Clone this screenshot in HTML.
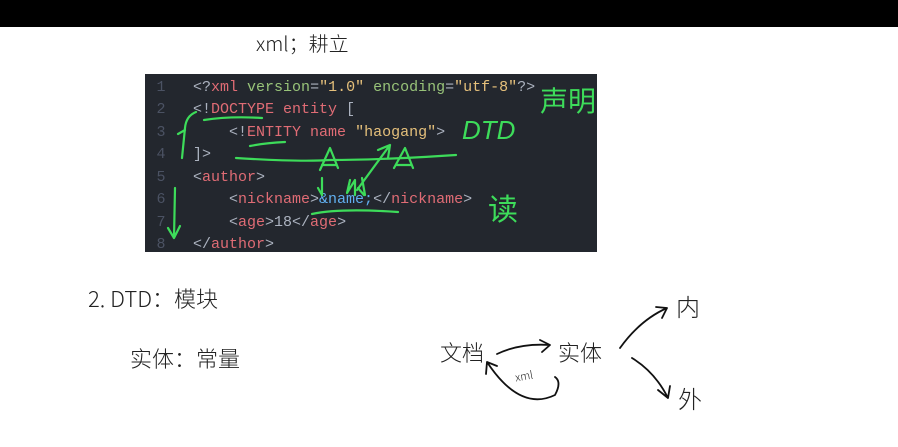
<!DOCTYPE html>
<html><head><meta charset="utf-8"><style>
body{margin:0;width:898px;height:447px;background:#fff;position:relative;overflow:hidden;font-family:"Liberation Sans","Noto Sans CJK SC",sans-serif}
.bar{position:absolute;left:0;top:0;width:898px;height:27px;background:#000}
.code{position:absolute;left:145px;top:74px;width:452px;height:178px;background:#23272e;overflow:hidden;font-family:"Liberation Mono",monospace;font-size:15px;color:#abb2bf}
.ln{position:absolute;left:8px;width:16px;text-align:center;color:#4b5263}
.l{position:absolute;white-space:pre}
.t{color:#e06c75}.s{color:#e5c07b}.a{color:#98c379}.e{color:#61afef}
.hw{position:absolute;font-family:"Noto Sans CJK SC",sans-serif;font-weight:300;color:#222;white-space:nowrap}
.g{position:absolute;color:#3ddc5a;font-family:"Noto Sans CJK SC",sans-serif;white-space:nowrap}
</style></head><body>
<div class="bar"></div>
<div class="hw" style="left:256px;top:28px;font-size:20px">xml；耕立</div>
<div class="code">
<div class="ln" style="top:5px">1</div><div class="ln" style="top:27px">2</div><div class="ln" style="top:50px">3</div><div class="ln" style="top:72px">4</div><div class="ln" style="top:95px">5</div><div class="ln" style="top:117px">6</div><div class="ln" style="top:140px">7</div><div class="ln" style="top:162px">8</div>
<div class="l" style="left:48px;top:5px">&lt;?<span class="t">xml</span> <span class="a">version</span>=<span class="s">"1.0"</span> <span class="a">encoding</span>=<span class="s">"utf-8"</span>?&gt;</div>
<div class="l" style="left:48px;top:27px">&lt;!<span class="t">DOCTYPE entity</span> [</div>
<div class="l" style="left:84px;top:50px">&lt;!<span class="t">ENTITY name</span> <span class="s">"haogang"</span>&gt;</div>
<div class="l" style="left:48px;top:72px">]&gt;</div>
<div class="l" style="left:48px;top:95px">&lt;<span class="t">author</span>&gt;</div>
<div class="l" style="left:84px;top:117px">&lt;<span class="t">nickname</span>&gt;<span class="e">&amp;name;</span>&lt;/<span class="t">nickname</span>&gt;</div>
<div class="l" style="left:84px;top:140px">&lt;<span class="t">age</span>&gt;18&lt;/<span class="t">age</span>&gt;</div>
<div class="l" style="left:48px;top:162px">&lt;/<span class="t">author</span>&gt;</div>
</div>
<svg width="898" height="447" style="position:absolute;left:0;top:0" fill="none" stroke-linecap="round" stroke-linejoin="round">
<g stroke="#3ddc5a" stroke-width="2.2">
<path d="M196 112 Q186 116 185 128 L182 158 M185 130 L178 134"/>
<path d="M175 188 L174 238 M168 228 L174 238 L180 226"/>
<path d="M204 120 Q230 116 262 118"/>
<path d="M250 146 Q265 143 285 142"/>
<path d="M236 158 Q300 162 330 160 Q380 160 456 155"/>
<path d="M320 170 L330 148 L338 168 M322 165 L336 165 M394 168 L405 148 L413 168 M396 165 L411 165"/>
<path d="M322 178 L322 195 M318 188 L322 195 M350 180 L347 193 L355 180 L355 195 M362 178 L365 195 M358 188 L364 195"/>
<path d="M357 190 L390 145 M378 150 L390 145 L388 158"/>
<path d="M312 214 Q340 208 398 212"/>
</g>
<g stroke="#111" stroke-width="1.8">
<path d="M497 354 Q520 343 550 345 M540 340 L550 345 L542 352"/>
<path d="M620 348 Q640 320 667 308 M656 307 L667 308 L662 318"/>
<path d="M632 358 Q655 372 668 398 M658 390 L668 398 L670 386"/>
<path d="M487 362 Q520 412 555 395 Q562 382 555 377 M487 362 L486 374 M487 362 L497 366"/>
</g>
</svg>
<div class="g" style="left:462px;top:115px;font-size:26px;font-style:italic;font-family:'Liberation Sans',sans-serif">DTD</div>
<div class="g" style="left:540px;top:80px;font-size:28px">声明</div>
<div class="g" style="left:488px;top:185px;font-size:30px">读</div>
<div class="hw" style="left:515px;top:368px;font-size:11px;transform:rotate(-10deg)">xml</div>
<div class="hw" style="left:88px;top:282px;font-size:22px">2. DTD：模块</div>
<div class="hw" style="left:130px;top:342px;font-size:22px">实体：常量</div>
<div class="hw" style="left:440px;top:336px;font-size:22px">文档</div>
<div class="hw" style="left:558px;top:336px;font-size:22px">实体</div>
<div class="hw" style="left:676px;top:288px;font-size:24px">内</div>
<div class="hw" style="left:678px;top:380px;font-size:24px">外</div>
</body></html>
